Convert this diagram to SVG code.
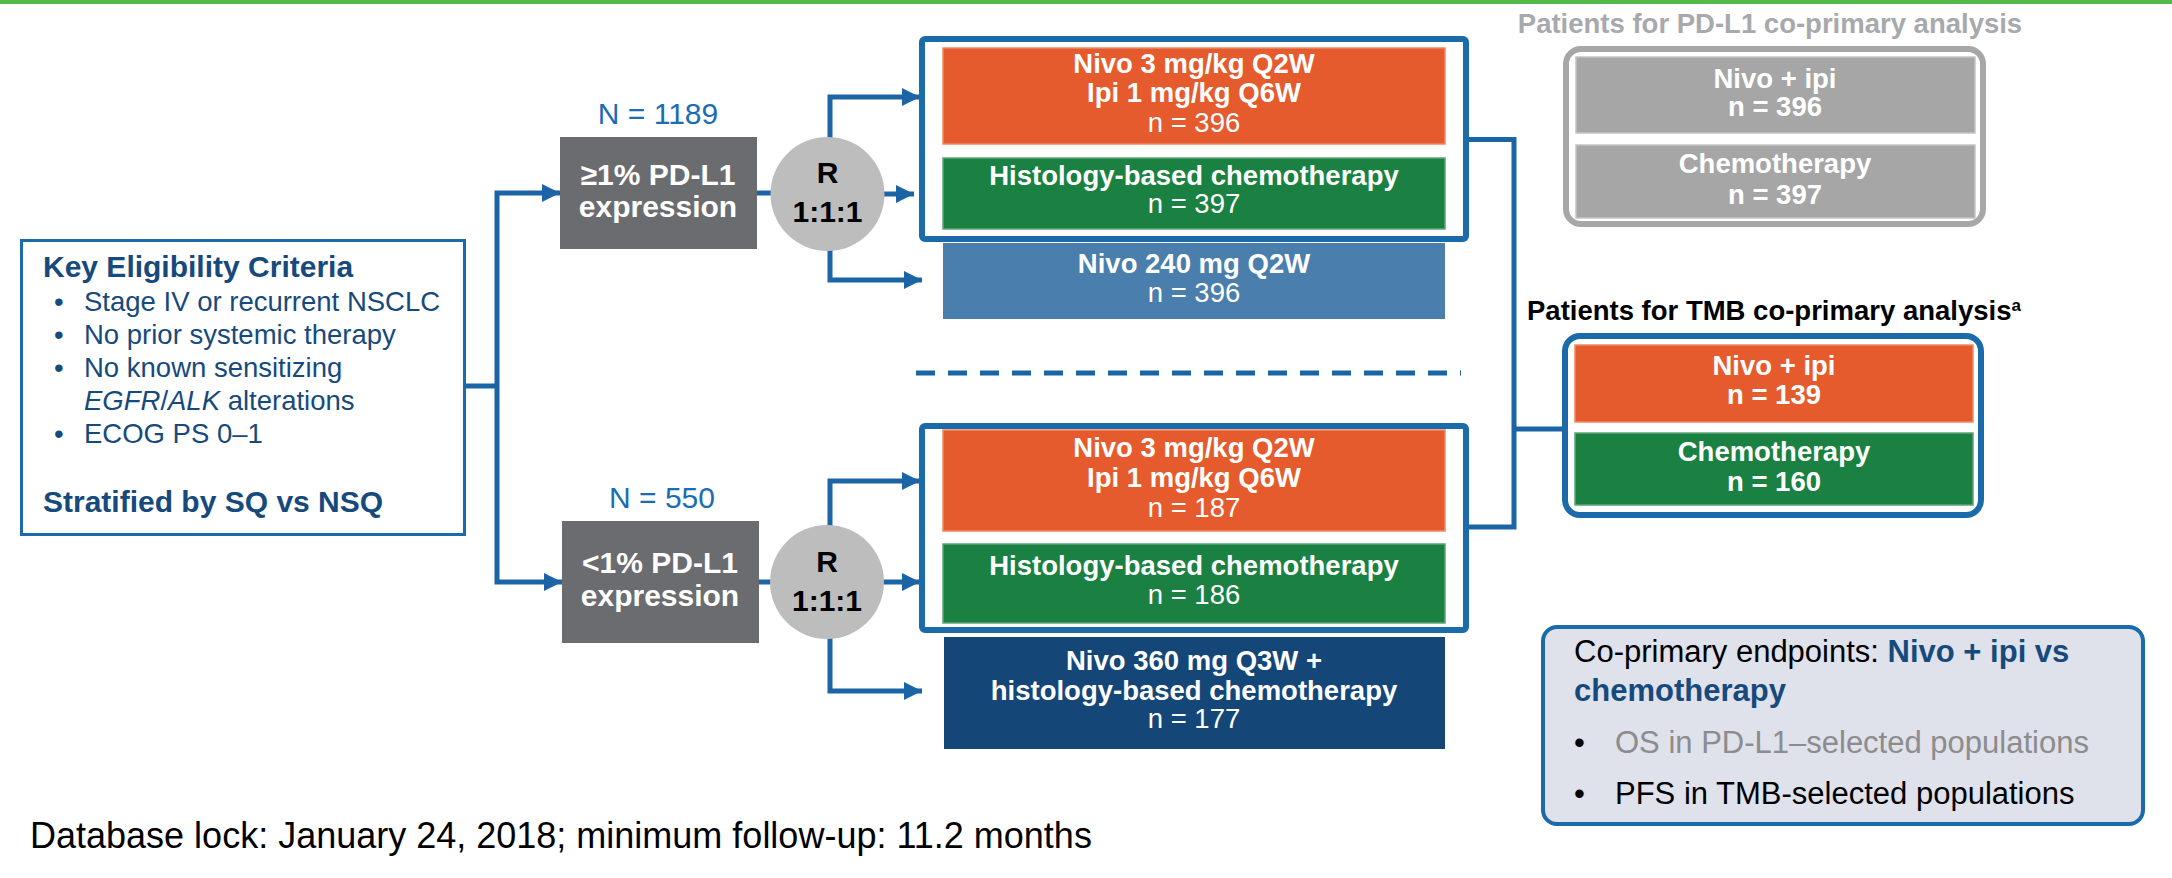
<svg xmlns="http://www.w3.org/2000/svg" width="2172" height="878" viewBox="0 0 2172 878">
<defs>
<marker id="ah" markerUnits="userSpaceOnUse" markerWidth="18" markerHeight="18" refX="18" refY="9" orient="auto">
<path d="M0,0 L18,9 L0,18 z" fill="#1b64a6"/>
</marker>
<style>
text{font-family:"Liberation Sans",Arial,sans-serif}
.conn{fill:none;stroke:#1b64a6;stroke-width:5}
.arr{marker-end:url(#ah)}
.cont{fill:#fff;stroke:#1b6aa9;stroke-width:6}
.b{font-weight:bold}
.c{text-anchor:middle}
.w{fill:#fff}
.t{font-size:27.5px}
.nl{font-size:30px;fill:#1a6db5}
.key{fill:#174a7c}
.ora{fill:#e55b2d;stroke:#ee8a66;stroke-width:1.5}
.grn{fill:#1a8142;stroke:#5fa477;stroke-width:1.5}
.gry{fill:#a6a6a6;stroke:#c4c4c4;stroke-width:1.5}
</style>
</defs>
<rect x="0" y="0" width="2172" height="4" fill="#52b848"/>

<g id="key-criteria">
<rect x="21.5" y="240.5" width="443" height="294" fill="#fff" stroke="#1b6aa9" stroke-width="3"/>
<text x="43" y="277" class="b key" font-size="30">Key Eligibility Criteria</text>
<g class="key" font-size="27.5">
<text x="54" y="311">•</text><text x="84" y="311">Stage IV or recurrent NSCLC</text>
<text x="54" y="344">•</text><text x="84" y="344">No prior systemic therapy</text>
<text x="54" y="377">•</text><text x="84" y="377">No known sensitizing</text>
<text x="84" y="410"><tspan font-style="italic">EGFR</tspan>/<tspan font-style="italic">ALK</tspan> alterations</text>
<text x="54" y="443">•</text><text x="84" y="443">ECOG PS 0–1</text>
</g>
<text x="43" y="512" class="b key" font-size="30">Stratified by SQ vs NSQ</text>
</g>

<g id="connectors">
<path class="conn" d="M466,386 H497"/>
<path class="conn arr" d="M497,386 V193 H560"/>
<path class="conn arr" d="M497,386 V582 H562"/>
<path class="conn" d="M757,193 H772"/>
<path class="conn arr" d="M830,138 V97 H920"/>
<path class="conn arr" d="M884,194 H914"/>
<path class="conn arr" d="M830,250 V280 H922"/>
<path class="conn" d="M759,582 H772"/>
<path class="conn arr" d="M830,526 V481 H920"/>
<path class="conn arr" d="M883,582 H920"/>
<path class="conn arr" d="M830,638 V691 H922"/>
<path class="conn" stroke-width="6" d="M1469,139.5 H1514 V527 H1469"/>
<path class="conn" stroke-width="6" d="M1514,429 H1562"/>
<path class="conn" stroke-dasharray="19 13" d="M916,373 H1461"/>
</g>

<g id="pdl1-high">
<text x="658" y="124" class="c nl">N = 1189</text>
<rect x="560" y="137" width="197" height="112" fill="#6b6c70"/>
<text x="658" y="185" class="c b w" font-size="30">≥1% PD-L1</text>
<text x="658" y="217" class="c b w" font-size="30">expression</text>
</g>
<g id="rand-1">
<circle cx="827.5" cy="194" r="57" fill="#bdbdbe"/>
<text x="827.5" y="183" class="c b" font-size="30">R</text>
<text x="827.5" y="222" class="c b" font-size="30">1:1:1</text>
</g>
<g id="pdl1-low">
<text x="662" y="508" class="c nl">N = 550</text>
<rect x="562" y="521" width="197" height="122" fill="#6b6c70"/>
<text x="660" y="573" class="c b w" font-size="30">&lt;1% PD-L1</text>
<text x="660" y="606" class="c b w" font-size="30">expression</text>
</g>
<g id="rand-2">
<circle cx="827" cy="582" r="57" fill="#bdbdbe"/>
<text x="827" y="572" class="c b" font-size="30">R</text>
<text x="827" y="611" class="c b" font-size="30">1:1:1</text>
</g>

<g id="arms-high">
<rect x="922" y="39" width="544" height="200" rx="3" class="cont"/>
<rect x="943" y="48" width="502" height="96" class="ora"/>
<text x="1194" y="73" class="c b w t">Nivo 3 mg/kg Q2W</text>
<text x="1194" y="102" class="c b w t">Ipi 1 mg/kg Q6W</text>
<text x="1194" y="132" class="c w t">n = 396</text>
<rect x="943" y="158" width="502" height="71" class="grn"/>
<text x="1194" y="185" class="c b w t">Histology-based chemotherapy</text>
<text x="1194" y="213" class="c w t">n = 397</text>
</g>
<g id="arm-nivo240">
<rect x="943" y="243" width="502" height="76" fill="#4a7eac"/>
<text x="1194" y="273" class="c b w t">Nivo 240 mg Q2W</text>
<text x="1194" y="302" class="c w t">n = 396</text>
</g>

<g id="arms-low">
<rect x="922" y="426" width="544" height="204" rx="3" class="cont"/>
<rect x="943" y="430" width="502" height="101" class="ora"/>
<text x="1194" y="457" class="c b w t">Nivo 3 mg/kg Q2W</text>
<text x="1194" y="487" class="c b w t">Ipi 1 mg/kg Q6W</text>
<text x="1194" y="517" class="c w t">n = 187</text>
<rect x="943" y="544" width="502" height="79" class="grn"/>
<text x="1194" y="575" class="c b w t">Histology-based chemotherapy</text>
<text x="1194" y="604" class="c w t">n = 186</text>
</g>
<g id="arm-nivo360">
<rect x="944" y="637" width="501" height="112" fill="#144678"/>
<text x="1194" y="670" class="c b w t">Nivo 360 mg Q3W +</text>
<text x="1194" y="700" class="c b w t">histology-based chemotherapy</text>
<text x="1194" y="728" class="c w t">n = 177</text>
</g>

<g id="pdl1-analysis">
<text x="1770" y="33" class="c b t" fill="#a7a9ac">Patients for PD-L1 co-primary analysis</text>
<rect x="1566" y="49" width="417" height="175" rx="15" fill="#fff" stroke="#a7a7a7" stroke-width="6"/>
<rect x="1576" y="57" width="399" height="76" class="gry"/>
<text x="1775" y="88" class="c b w t">Nivo + ipi</text>
<text x="1775" y="116" class="c b w t">n = 396</text>
<rect x="1576" y="145" width="399" height="73" class="gry"/>
<text x="1775" y="173" class="c b w t">Chemotherapy</text>
<text x="1775" y="204" class="c b w t">n = 397</text>
</g>

<g id="tmb-analysis">
<text x="1527" y="320" class="b t" fill="#000">Patients for TMB co-primary analysis<tspan font-size="17" dy="-9">a</tspan></text>
<rect x="1565" y="336" width="416" height="179" rx="15" fill="#fff" stroke="#1b6aa9" stroke-width="6"/>
<rect x="1575" y="345" width="398" height="77" class="ora"/>
<text x="1774" y="375" class="c b w t">Nivo + ipi</text>
<text x="1774" y="404" class="c b w t">n = 139</text>
<rect x="1575" y="433" width="398" height="72" class="grn"/>
<text x="1774" y="461" class="c b w t">Chemotherapy</text>
<text x="1774" y="491" class="c b w t">n = 160</text>
</g>

<g id="endpoints">
<rect x="1543" y="627" width="600" height="197" rx="14" fill="#dfe1eb" stroke="#1b6aa9" stroke-width="4"/>
<text x="1574" y="662" font-size="31" fill="#000">Co-primary endpoints: <tspan class="b" fill="#174a7c">Nivo + ipi vs</tspan></text>
<text x="1574" y="701" font-size="31" class="b" fill="#174a7c">chemotherapy</text>
<text x="1574" y="753" font-size="31" fill="#000">•</text>
<text x="1615" y="753" font-size="31" fill="#8c8c8c">OS in PD-L1–selected populations</text>
<text x="1574" y="804" font-size="31" fill="#000">•</text>
<text x="1615" y="804" font-size="31" fill="#000">PFS in TMB-selected populations</text>
</g>

<text x="30" y="848" font-size="36" fill="#000">Database lock: January 24, 2018; minimum follow-up: 11.2 months</text>
</svg>
